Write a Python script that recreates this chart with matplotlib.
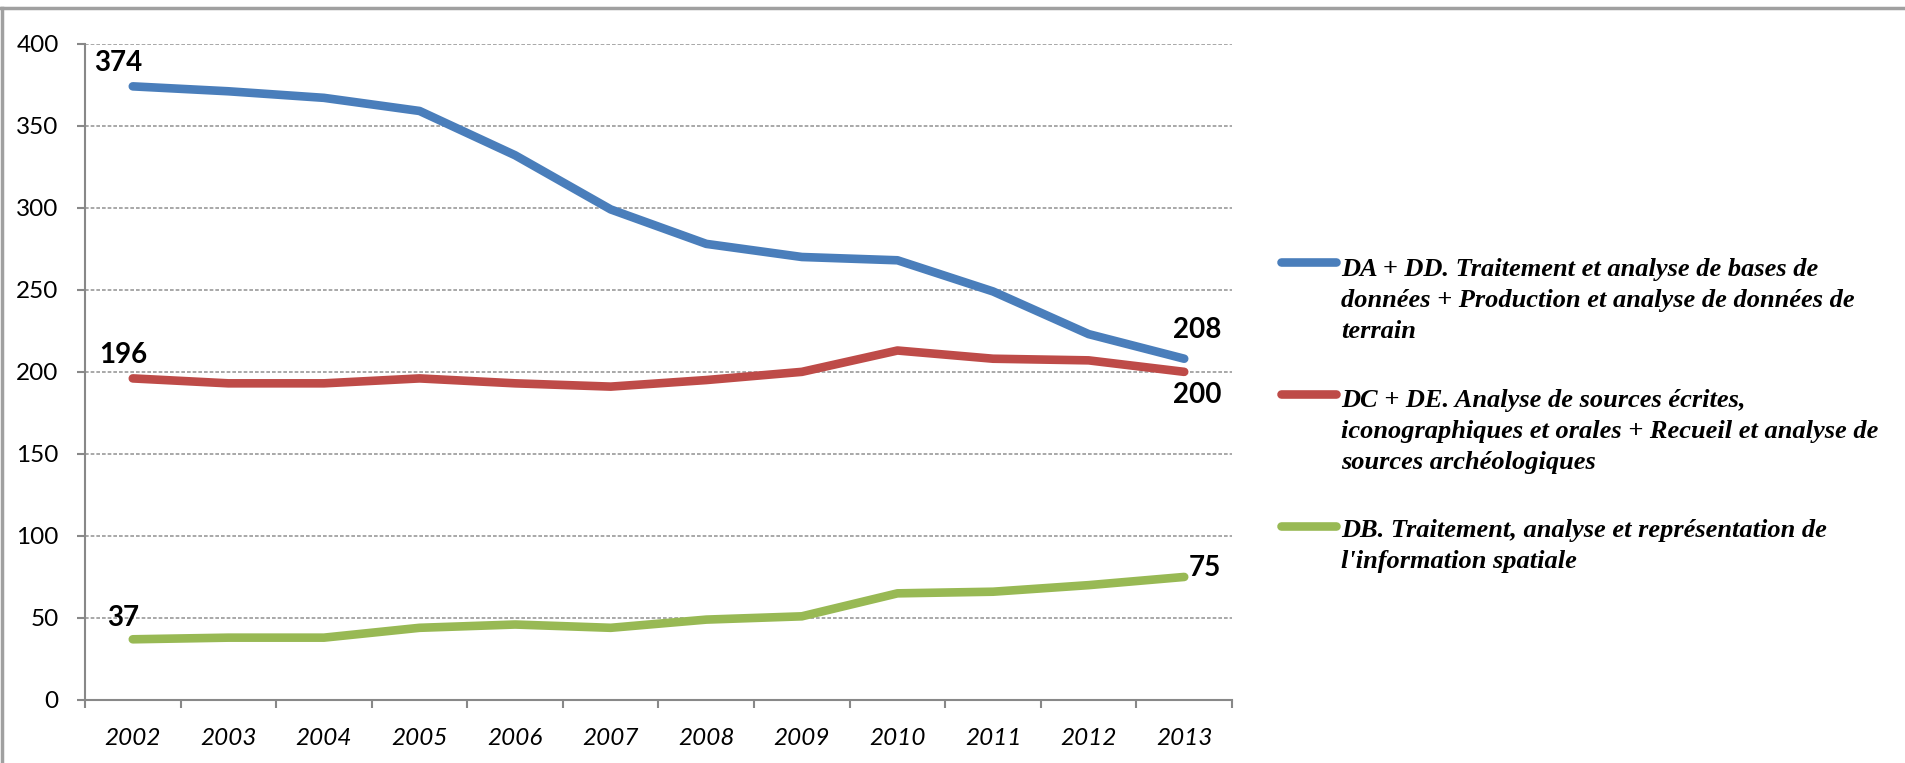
import matplotlib.pyplot as plt
from matplotlib.lines import Line2D

years = ['2002', '2003', '2004', '2005', '2006', '2007',
         '2008', '2009', '2010', '2011', '2012', '2013']
da_dd = [374, 371, 367, 359, 332, 299, 278, 270, 268, 249, 223, 208]
dc_de = [196, 193, 193, 196, 193, 191, 195, 200, 213, 208, 207, 200]
db = [37, 38, 38, 44, 46, 44, 49, 51, 65, 66, 70, 75]

labels = ["DA + DD. Traitement et analyse de bases de\ndonnées + Production et analyse de données de\nterrain",
          "DC + DE. Analyse de sources écrites,\niconographiques et orales + Recueil et analyse de\nsources archéologiques",
          "DB. Traitement, analyse et représentation de\nl'information spatiale"]
colors = ['#4a7ebb', '#be4b48', '#98b954']
series = [da_dd, dc_de, db]

W, H = 1905, 763
fig = plt.figure(figsize=(W / 100, H / 100), dpi=100)
ax = fig.add_axes([85 / W, 1 - 700 / H, (1232 - 85) / W, (700 - 43.7) / H])

x = list(range(len(years)))
for vals, c in zip(series, colors):
    ax.plot(x, vals, color=c, lw=6.2, solid_capstyle='round', solid_joinstyle='round', zorder=3)

ax.set_xlim(-0.5, len(years) - 0.5)
ax.set_ylim(0, 400)
ax.set_yticks(range(0, 401, 50))
ax.set_xticks(x)
ax.set_xticklabels(years, fontfamily='Lato', fontstyle='italic', fontsize=17.5)
ax.set_xticks([i - 0.5 for i in range(len(years) + 1)], minor=True)
ax.tick_params(axis='x', which='major', length=0, pad=20)
ax.tick_params(axis='x', which='minor', length=6, width=1.5, color='#888888', direction='out')
ax.tick_params(axis='y', length=6, width=1.5, color='#888888', pad=13)
for t in ax.get_yticklabels():
    t.set_fontfamily('Lato')
    t.set_fontsize(17.5)

ax.grid(axis='y', linestyle=(0, (2.2, 1.2)), color='#9a9a9a', lw=1.2, zorder=1)
for s in ['top', 'right']:
    ax.spines[s].set_visible(False)
for s in ['left', 'bottom']:
    ax.spines[s].set_color('#888888')
    ax.spines[s].set_linewidth(1.5)

# value labels on the first and last points
offsets = [((-10.8, 17), (9.4, 20.8)),
           ((-7.2, 17), (9.4, -16.6)),
           ((-7.2, 15), (15, 6.5))]
for vals, (o1, o2) in zip(series, offsets):
    for i, o in ((0, o1), (len(vals) - 1, o2)):
        ax.annotate(str(vals[i]), (i, vals[i]), xytext=o, textcoords='offset points',
                    ha='center', va='center', fontfamily='Lato', fontweight='bold', fontsize=20)

# legend drawn by hand so the swatch sits on the first text line
handle_y = [262, 394, 526]
first_base = [276, 407, 537]
for lab, c, hy, by in zip(labels, colors, handle_y, first_base):
    fig.add_artist(Line2D([1281 / W, 1336 / W], [1 - hy / H, 1 - hy / H], color=c, lw=6.2,
                          solid_capstyle='round', transform=fig.transFigure))
    for k, line in enumerate(lab.split('\n')):
        fig.text(1341 / W, 1 - (by + 31 * k) / H, line, ha='left', va='baseline',
                 fontfamily='Liberation Serif', fontweight='bold', fontstyle='italic', fontsize=19)

# frame of the original picture
fig.add_artist(Line2D([0, 1], [1 - 8 / H, 1 - 8 / H], color='#a0a0a0', lw=2.5, transform=fig.transFigure))
fig.add_artist(Line2D([1.5 / W, 1.5 / W], [0, 1 - 8 / H], color='#a0a0a0', lw=2.5, transform=fig.transFigure))

fig.savefig('out.png', dpi=100)
